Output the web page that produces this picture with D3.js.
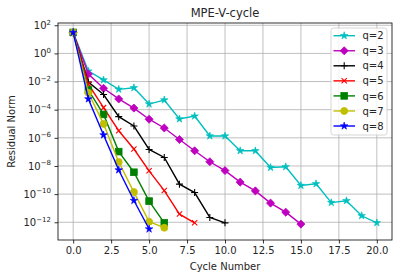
<!DOCTYPE html>
<html><head><meta charset="utf-8">
<script src="https://cdn.jsdelivr.net/npm/d3@7"></script>
<style>body{margin:0;background:#fff}svg{display:block;font-family:"DejaVu Sans",sans-serif}</style>
</head><body><svg id="c" width="399" height="278"></svg>
<script>
const cycles = d3.range(0, 21);
const seriesNames = ["q=2","q=3","q=4","q=5","q=6","q=7","q=8"];
const q2 = [31,5.5e-2,1.3e-2,2.8e-3,3.6e-3,2.5e-4,4.9e-4,2.2e-5,3.5e-5,1.35e-6,1.35e-6,1.2e-7,1.2e-7,7.8e-9,8.7e-9,4.1e-10,5.4e-10,2.5e-11,3.4e-11,2.9e-12,9.1e-13];
const q3 = [31,3.4e-2,3.3e-3,5.8e-4,1.3e-4,2.1e-5,5.0e-6,7.6e-7,1.2e-7,2.0e-8,4.7e-9,7.1e-10,1.7e-10,2.3e-11,5.2e-12,7.4e-13];
const q4 = [31,9.1e-3,1.2e-3,3.2e-5,6.9e-6,1.5e-7,4.0e-8,5.1e-10,1.3e-10,2.2e-12,9.1e-13];
const q5 = [31,6.6e-3,1.4e-4,3.2e-6,1.6e-7,4.5e-9,1.8e-10,3.8e-12,9.1e-13];
const q6 = [31,2.5e-3,4.6e-5,1.05e-7,3.6e-9,3.2e-11,9.1e-13];
const q7 = [31,1.6e-3,9.8e-6,1.9e-8,1.4e-10,1.1e-12,4.1e-13];
const q8 = [31,5.8e-4,1.6e-6,5.2e-9,3.5e-11,3.3e-13];
const xTicks = [0,2.5,5,7.5,10,12.5,15,17.5,20];
const yTickExps = [2,0,-2,-4,-6,-8,-10,-12];

const allSeries = [q2,q3,q4,q5,q6,q7,q8];
const colors = ["#00bfbf","#bf00bf","#000000","#ff0000","#008000","#bfbf00","#0000ff"];
const markers = ["star","diamond","plus","x","square","circle","star"];

const M = {l:58, r:392, t:23, b:240};
const svg = d3.select("#c");
const x = d3.scaleLinear().domain([-1,21]).range([M.l, M.r]);
const y = d3.scaleLog().domain([Math.pow(10,-13.26), Math.pow(10,2.16)]).range([M.b, M.t]);

// grid
const g = svg.append("g");
xTicks.forEach(t => g.append("line").attr("x1",x(t)).attr("x2",x(t)).attr("y1",M.t).attr("y2",M.b).attr("stroke","#b0b0b0").attr("stroke-width",0.8));
yTickExps.forEach(e => g.append("line").attr("x1",M.l).attr("x2",M.r).attr("y1",y(Math.pow(10,e))).attr("y2",y(Math.pow(10,e))).attr("stroke","#b0b0b0").attr("stroke-width",0.8));

// axes
const xAxis = d3.axisBottom(x).tickValues(xTicks).tickFormat(d3.format(".1f")).tickSize(3.5).tickPadding(3.5);
const xa = svg.append("g").attr("transform",`translate(0,${M.b})`).call(xAxis);
xa.select(".domain").remove();
xa.selectAll("text").attr("font-size",10).attr("fill","#262626").attr("font-family","DejaVu Sans");
xa.selectAll("line").attr("stroke","#000").attr("stroke-width",0.8);

const yAxis = d3.axisLeft(y).tickValues(yTickExps.map(e=>Math.pow(10,e))).tickFormat("").tickSize(3.5);
const ya = svg.append("g").attr("transform",`translate(${M.l},0)`).call(yAxis);
ya.select(".domain").remove();
ya.selectAll("line").attr("stroke","#000").attr("stroke-width",0.8);
yTickExps.forEach(e => {
  const t = svg.append("text").attr("x", M.l-7).attr("y", y(Math.pow(10,e))+3.8)
    .attr("text-anchor","end").attr("font-size",10).attr("fill","#262626");
  t.append("tspan").text("10");
  t.append("tspan").attr("dy",-4.5).attr("font-size",7).text(String(e).replace("-","\u2212"));
});

// spines
svg.append("rect").attr("x",M.l).attr("y",M.t).attr("width",M.r-M.l).attr("height",M.b-M.t)
  .attr("fill","none").attr("stroke","#000").attr("stroke-width",0.8);

function drawMarker(sel, type, color, cx, cy, s) {
  const r = s/2;
  if (type === "star") {
    sel.append("path").attr("d", d3.symbol(d3.symbolStar, s*s*0.36)())
      .attr("transform",`translate(${cx},${cy})`).attr("fill",color).attr("stroke",color).attr("stroke-width",0.6);
  } else if (type === "diamond") {
    sel.append("path").attr("d",`M${cx},${cy-r*1.15}L${cx+r*1.15},${cy}L${cx},${cy+r*1.15}L${cx-r*1.15},${cy}Z`)
      .attr("fill",color).attr("stroke",color).attr("stroke-width",0.8);
  } else if (type === "plus") {
    sel.append("path").attr("d",`M${cx-r},${cy}H${cx+r}M${cx},${cy-r}V${cy+r}`)
      .attr("stroke",color).attr("stroke-width",1.1).attr("fill","none");
  } else if (type === "x") {
    const k = r*0.75;
    sel.append("path").attr("d",`M${cx-k},${cy-k}L${cx+k},${cy+k}M${cx-k},${cy+k}L${cx+k},${cy-k}`)
      .attr("stroke",color).attr("stroke-width",1.1).attr("fill","none");
  } else if (type === "square") {
    sel.append("rect").attr("x",cx-r*0.95).attr("y",cy-r*0.95).attr("width",r*1.9).attr("height",r*1.9)
      .attr("fill",color).attr("stroke",color).attr("stroke-width",0.8);
  } else if (type === "circle") {
    sel.append("circle").attr("cx",cx).attr("cy",cy).attr("r",r).attr("fill",color).attr("stroke",color).attr("stroke-width",0.8);
  }
}

const line = d3.line().x((d,i)=>x(cycles[i])).y(d=>y(d));
const plot = svg.append("g");
allSeries.forEach((s,k) => {
  const gg = plot.append("g");
  gg.append("path").datum(s).attr("d",line).attr("fill","none").attr("stroke",colors[k]).attr("stroke-width",1.4);
  s.forEach((v,i) => drawMarker(gg, markers[k], colors[k], x(cycles[i]), y(v), 7));
});

// legend
const lg = svg.append("g");
lg.append("rect").attr("x",331).attr("y",28).attr("width",56).attr("height",107).attr("rx",2.5)
  .attr("fill","#fff").attr("fill-opacity",0.8).attr("stroke","#cccccc").attr("stroke-width",0.8);
seriesNames.forEach((n,k) => {
  const ly = 35.7 + k*15.05;
  lg.append("line").attr("x1",333.5).attr("x2",355).attr("y1",ly).attr("y2",ly).attr("stroke",colors[k]).attr("stroke-width",1.4);
  drawMarker(lg, markers[k], colors[k], 344.2, ly, 7);
  lg.append("text").attr("x",362.5).attr("y",ly+3.6).attr("font-size",10).attr("fill","#262626").text(n);
});

// title & labels
svg.append("text").attr("x",(M.l+M.r)/2).attr("y",17).attr("text-anchor","middle").attr("font-size",11.5).attr("fill","#262626").text("MPE-V-cycle");
svg.append("text").attr("x",(M.l+M.r)/2).attr("y",270).attr("text-anchor","middle").attr("font-size",10).attr("fill","#262626").text("Cycle Number");
svg.append("text").attr("transform",`translate(15,${(M.t+M.b)/2}) rotate(-90)`).attr("text-anchor","middle").attr("font-size",10).attr("fill","#262626").text("Residual Norm");
</script></body></html>
